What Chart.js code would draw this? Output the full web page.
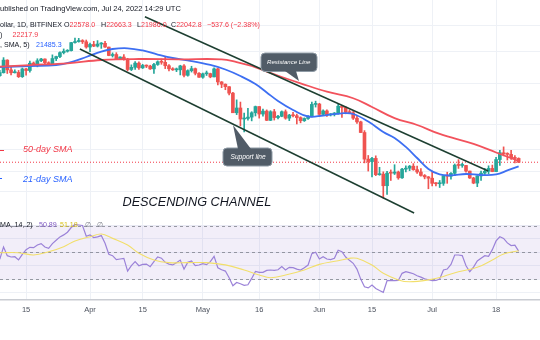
<!DOCTYPE html>
<html lang="en">
<head>
<meta charset="UTF-8">
<meta name="viewport" content="width=device-width, initial-scale=1.0">
<title>BTC/USD 1D - descending channel</title>
<script src="https://cdn.jsdelivr.net/npm/chart.js"></script>
<style>
  html, body { margin: 0; padding: 0; background: #ffffff; }
  body { position: relative; width: 540px; height: 340px; overflow: hidden; font-family: "Liberation Sans", Arial, sans-serif; }
  canvas { position: absolute; left: 0; }
  #priceChart { top: 0; }
  #rsiChart { top: 216px; }
  .t { position: absolute; white-space: nowrap; line-height: 1; }
  .legend { font-size: 7.1px; color: #131722; }
  .red { color: #f23645; }
  .blue { color: #2962ff; }
  .note { font-style: italic; font-size: 9px; }
  .bubble { font-style: italic; color: #ffffff; }
  .dash { position: absolute; height: 1px; }
</style>
</head>
<body>
<canvas id="priceChart" width="540" height="216"></canvas>
<canvas id="rsiChart" width="540" height="124"></canvas>

<!-- legend -->
<div class="t legend" style="left:0;top:4.5px;font-size:7.5px">ublished on TradingView.com, Jul 24, 2022 14:29 UTC</div>
<div class="t legend" style="left:0;top:22px">ollar, 1D, BITFINEX</div>
<div class="t legend" style="left:64px;top:22px">O<span class="red">22578.0</span></div>
<div class="t legend" style="left:101px;top:22px">H<span class="red">22663.3</span></div>
<div class="t legend" style="left:137px;top:22px">L<span class="red">21986.0</span></div>
<div class="t legend" style="left:171px;top:22px">C<span class="red">22042.8</span></div>
<div class="t legend red" style="left:207px;top:22px">−537.6 (−2.38%)</div>
<div class="t legend" style="left:0;top:32px">)</div>
<div class="t legend red" style="left:12.5px;top:32px">22217.9</div>
<div class="t legend" style="left:0;top:42px">, SMA, 5)</div>
<div class="t legend blue" style="left:36px;top:42px">21485.3</div>

<!-- notes on the chart -->
<div class="dash" style="left:0;top:150px;width:4px;background:#f23645"></div>
<div class="t note red" style="left:23px;top:145px">50-day SMA</div>
<div class="dash" style="left:0;top:178px;width:2px;background:#2962ff"></div>
<div class="t note blue" style="left:23px;top:174.5px">21-day SMA</div>
<div class="t" style="left:122.5px;top:195.5px;font-size:12.7px;font-style:italic;color:#131722">DESCENDING CHANNEL</div>
<div class="t bubble" style="left:267px;top:58.5px;font-size:6.1px">Resistance Line</div>
<div class="t bubble" style="left:230.5px;top:153.5px;font-size:6.6px">Support line</div>

<!-- RSI legend -->
<div class="t legend" style="left:0;top:222px">MA, 14, 2)</div>
<div class="t legend" style="left:39px;top:222px;color:#7e57c2">50.89</div>
<div class="t legend" style="left:60px;top:222px;color:#d9c21a">51.18</div>
<div class="t legend" style="left:85px;top:222px;color:#787b86">∅</div>
<div class="t legend" style="left:96.5px;top:222px;color:#787b86">∅</div>

<script>
// day numbers count from Apr 1 2022 (Mar 7 = -25 ... Jul 24 = 114)
const firstDay = -25;

const opens = [38400,38020,38740,41940,39430,38730,38810,37780,39670,39280,41120,40920,41770,42230,41260,41000,42360,42880,43960,44340,44520,46830,47130,47440,47070,
  45540,46280,45810,46410,46620,45530,43170,43440,42250,42760,42160,39530,40080,41150,39940,40550,40380,39680,40800,41500,41360,40480,39710,39450,39450,40430,38110,39240,39740,38600,
  37650,38470,38520,37730,39690,36550,36030,35470,34060,30100,31020,28940,29040,29290,30100,31300,29860,30420,28700,30300,29200,29440,30300,29100,29650,29540,29200,28630,29030,29460,31730,
  31800,29800,30450,29700,29860,29900,31370,31130,30200,30110,29090,28420,26580,22480,22130,22580,20380,20450,19010,20580,20570,20720,19980,21100,21230,21500,21030,20730,20280,20100,
  19930,19300,19250,19300,20230,20190,20550,21640,21600,21600,20850,19960,19330,20220,20580,20830,21200,20780,22420,23400,23240,23160,22680,22578.0];
const highs = [39550,39350,42600,42040,40250,39460,39300,39900,39850,41700,41450,42300,42400,42300,41500,43350,43000,44200,45000,44800,46900,48190,48100,47700,47600,
  46700,47200,47420,46850,47180,45530,43900,43950,42800,43400,42420,40700,41550,41500,40850,40700,40600,41100,41750,42200,42950,40780,39990,39900,40600,40800,39450,40350,39900,38800,
  38660,39150,38630,39950,39800,36650,36100,35500,34250,32650,32200,30050,30950,30300,31400,31300,30800,30650,30500,30750,29600,30450,30650,29800,30200,29850,29350,29150,29550,32200,32380,
  31950,30650,30650,29950,30150,31750,31550,31300,30650,30350,29450,28550,26900,23000,22750,22950,21350,20750,20800,21000,21700,20850,21200,21550,21600,21850,21500,21180,20400,20150,
  20850,19400,19650,20300,20700,20650,21800,22400,21900,21600,20850,20050,20250,20850,21200,21550,21650,22750,23750,24280,23400,23750,22980,22663.3];
const lows = [37160,37870,38650,38550,38230,38660,37580,37600,38120,38900,40530,40200,41500,40900,40500,40890,41800,42600,43600,44100,44400,46650,46950,46550,45200,
  44250,45650,45550,45150,45400,43100,42750,42130,42130,41900,39200,39250,39570,39560,39770,40000,39550,38540,40570,40850,39750,39200,39300,39000,38200,37700,37900,38900,38200,37600,
  37400,38060,37520,37700,35860,35250,34800,33700,30100,29750,27700,26700,28750,28600,29500,29100,29450,28650,28650,28750,28950,29350,28900,28650,29300,28050,28250,28500,28850,29300,31200,
  29400,29600,29400,29500,29500,29850,29250,29900,29950,28850,28150,26550,21950,20850,20100,20250,20300,17600,18000,19650,20400,19800,19900,20750,20900,20950,20550,20200,19850,18650,
  19000,18980,18800,19050,19300,19800,20250,21200,21350,20700,19900,19250,18900,19650,20400,20500,20760,20760,21600,22950,22350,22450,21950,21986.0];
const closes = [38020,38740,41940,39430,38730,38810,37780,39670,39280,41120,40920,41770,42230,41260,41000,42360,42880,43960,44340,44520,46830,47130,47440,47070,45540,
  46280,45810,46410,46620,45530,43170,43440,42250,42760,42160,39530,40080,41150,39940,40550,40380,39680,40800,41500,41360,40480,39710,39450,39450,40430,38110,39240,39740,38600,37650,
  38470,38520,37730,39690,36550,36030,35470,34060,30100,31020,28940,29040,29290,30100,31300,29860,30420,28700,30300,29200,29440,30300,29100,29650,29540,29200,28630,29030,29460,31730,31800,
  29800,30450,29700,29860,29900,31370,31130,30200,30110,29090,28420,26580,22480,22130,22580,20380,20450,19010,20580,20570,20720,19980,21100,21230,21500,21030,20730,20280,20100,19930,
  19300,19250,19300,20230,20190,20550,21640,21600,21600,20850,19960,19330,20220,20580,20830,21200,20780,22420,23400,23240,23160,22680,22578,22042.8];

// moving averages at a few days each
const sma50Days = [-24,-16,-6,3,13,24,35,39,43,47,51,56,63,70,75,81,87,93,102,108,114];
const sma50 = [40230,40650,41100,41970,42230,42150,42150,41440,40410,38990,37710,36240,34370,32980,31220,29100,27870,26340,24740,23440,22217.9];
const sma21Days = [-24,-16,-9,-5,-1,3,6,10,14,18,22,27,32,36,40,44,47,50,54,58,62,67,70,74,78,81,84,87,90,93,96,100,104,108,111,114];
const sma21 = [40160,40410,40670,41440,42770,44270,44980,45180,44560,43440,42500,41700,40670,39530,37950,36080,34200,32420,30630,29400,29580,30000,29870,28490,26670,25680,24270,22640,21130,20410,20280,20470,20340,20410,20930,21485.3];

// RSI(14) per day, and its moving average at a few days
const rsi = [41,
  44.8,54,47.5,46.5,46.7,44.3,48.5,52,53.7,53.5,55.5,56.5,54,53,56.5,59,61.5,63,65,68.5,70.8,70.4,70,62,
  62.9,61,61.5,62.5,56.7,48.5,47.5,44.5,45,45.5,36,40,43,40,41,41.2,39.3,43,46.5,45.6,42.5,41.2,40.6,42.3,44.2,37.5,42.5,43.5,40,40.5,41.5,
  40.8,43,47,38.5,37,36,31,25,27.5,26.5,25.3,25.8,30.5,35.7,35,35,36.5,36.8,36.5,37,39.3,36.8,38.8,38.5,37.5,36.8,38.5,40.5,49,50,45,
  46.7,45,44.5,45.5,51.5,50.5,46.5,44,41.8,37.5,30,24.3,23.4,25.5,23,21.5,20.1,28.8,28.8,28.8,29,34.3,35.5,34.8,34,32.5,31.5,30.2,29.5,28.8,
  29,30,36.8,37.5,41,48,48,47.5,40,35.5,39,43.5,45.5,47.5,47,52,58.5,61.6,60.4,57,55,55.4,50.89];
const rsiMaDays = [-24,-19,-15,-11,-7,-4,0,3,6,10,13,17,21,26,31,36,41,45,48,52,57,61,66,69,71,75,78,82,85,90,94,98,103,107,110,114];
const rsiMa = [49.7,49.7,48,50.4,54.2,58.5,61.6,63.7,60.4,55.4,49.3,44.3,42.3,42.3,42.3,40.6,36.8,33.1,31,33,36.8,41,43.7,45.5,45.5,40.5,34.3,29.4,28,29.4,32,35.5,38.8,44.3,48.7,51.18];
const rsiBand = [30, 50, 70];

// drawn channel (day, price at each end)
const resistanceDays = [14.6, 105.9];
const resistancePrices = [55120, 20860];
const supportDays = [-2.7, 86.2];
const supportPrices = [44970, 16010];

// time axis
const tickDays = [-17, 0, 14, 30, 45, 61, 75, 91, 108];
const tickLabels = ['15', 'Apr', '15', 'May', '16', 'Jun', '15', 'Jul', '18'];
const priceGrid = [52300, 44200, 36200, 27900, 23900, 20800, 18300];
const rsiGrid = [20, 30, 40, 50, 60, 70];

const xMin = -23.94, xMax = 119.68;
const UP = '#26a69a', DOWN = '#ef5350';
const GRID = '#eef1f6';

const days = closes.map((c, i) => firstDay + i);
const candleColors = closes.map((c, i) => c >= opens[i] ? UP : DOWN);
const pts = (xs, ys) => xs.map((x, i) => ({ x: x, y: ys[i] }));
const lastClose = closes[closes.length - 1];

function xScale(extra) {
    return Object.assign({
        type: 'linear', min: xMin, max: xMax, bounds: 'data', offset: false,
        grid: { color: GRID, drawTicks: false, offset: false },
        border: { display: false },
        afterBuildTicks: s => { s.ticks = tickDays.map(v => ({ value: v })); }
    }, extra);
}

// speech bubbles for the two channel lines
const callouts = [
    { box: [261, 53, 56, 18.5], tail: [[285, 71], [296, 71], [299, 81]] },
    { box: [223, 148, 49, 18], tail: [[238, 149], [251, 149], [233, 125]] }
];
const calloutPlugin = {
    id: 'callouts',
    afterDatasetsDraw(chart) {
        const ctx = chart.ctx;
        ctx.save();
        callouts.forEach(c => {
            ctx.fillStyle = '#515c67';
            ctx.strokeStyle = '#8e9aa5';
            ctx.lineWidth = 1;
            ctx.beginPath();
            ctx.roundRect(c.box[0], c.box[1], c.box[2], c.box[3], 4);
            ctx.fill();
            ctx.stroke();
            ctx.beginPath();
            ctx.moveTo(c.tail[0][0], c.tail[0][1]);
            ctx.lineTo(c.tail[2][0], c.tail[2][1]);
            ctx.lineTo(c.tail[1][0], c.tail[1][1]);
            ctx.closePath();
            ctx.fill();
        });
        ctx.restore();
    }
};

new Chart(document.getElementById('priceChart'), {
    type: 'bar',
    data: {
        datasets: [
            { type: 'line', data: [{ x: xMin, y: lastClose }, { x: xMax, y: lastClose }], borderColor: '#f23645', borderWidth: 1, borderDash: [1, 2], pointRadius: 0, order: 5 },
            { data: pts(days, lows.map((l, i) => [l, highs[i]])), backgroundColor: candleColors, barThickness: 1, grouped: false, order: 4 },
            { data: pts(days, opens.map((o, i) => [o, closes[i]])), backgroundColor: candleColors, barThickness: 3, minBarLength: 1, grouped: false, order: 3 },
            { type: 'line', data: pts(sma50Days, sma50), borderColor: '#f2525c', borderWidth: 1.8, pointRadius: 0, tension: 0.4, order: 2 },
            { type: 'line', data: pts(sma21Days, sma21), borderColor: '#3d6ff2', borderWidth: 1.8, pointRadius: 0, tension: 0.4, order: 2 },
            { type: 'line', data: pts(resistanceDays, resistancePrices), borderColor: '#1d3f31', borderWidth: 1.5, pointRadius: 0, order: 1 },
            { type: 'line', data: pts(supportDays, supportPrices), borderColor: '#1d3f31', borderWidth: 1.5, pointRadius: 0, order: 1 }
        ]
    },
    options: {
        responsive: false, animation: false,
        layout: { padding: 0, autoPadding: false },
        plugins: { legend: { display: false }, tooltip: { enabled: false } },
        scales: {
            x: xScale({
                ticks: { display: false },
                afterFit: s => { s.height = 0; s.paddingLeft = 0; s.paddingRight = 0; }
            }),
            y: {
                type: 'logarithmic', min: 15710, max: 61240, bounds: 'data',
                ticks: { display: false },
                grid: { color: GRID, drawTicks: false },
                border: { display: false },
                afterBuildTicks: s => { s.ticks = priceGrid.map(v => ({ value: v })); },
                afterFit: s => { s.width = 0; }
            }
        }
    },
    plugins: [calloutPlugin]
});

// RSI pane: band between 30 and 70 plus dashed levels
const bandPlugin = {
    id: 'rsiBand',
    beforeDatasetsDraw(chart) {
        const { ctx, chartArea: a, scales: { y } } = chart;
        const top = y.getPixelForValue(rsiBand[2]);
        const bottom = y.getPixelForValue(rsiBand[0]);
        ctx.save();
        ctx.fillStyle = 'rgba(126, 87, 194, 0.1)';
        ctx.fillRect(a.left, top, a.width, bottom - top);
        ctx.strokeStyle = 'rgba(120, 123, 134, 0.75)';
        ctx.lineWidth = 1;
        ctx.setLineDash([3, 3]);
        rsiBand.forEach(v => {
            const py = Math.round(y.getPixelForValue(v)) + 0.5;
            ctx.beginPath();
            ctx.moveTo(a.left, py);
            ctx.lineTo(a.right, py);
            ctx.stroke();
        });
        ctx.restore();
    }
};

new Chart(document.getElementById('rsiChart'), {
    type: 'line',
    data: {
        datasets: [
            { data: pts(rsiMaDays, rsiMa), borderColor: '#f2df6b', borderWidth: 1.1, pointRadius: 0, tension: 0.4 },
            { data: pts(days, rsi), borderColor: '#9b82d8', borderWidth: 1.2, pointRadius: 0, tension: 0 }
        ]
    },
    options: {
        responsive: false, animation: false,
        layout: { padding: 0, autoPadding: false },
        plugins: { legend: { display: false }, tooltip: { enabled: false } },
        scales: {
            x: xScale({
                border: { display: true, color: '#c9ccd2', width: 1.5 },
                ticks: {
                    padding: 5, color: '#4c525e', maxRotation: 0, autoSkip: false,
                    font: { family: 'Liberation Sans', size: 7.5 },
                    callback: v => tickLabels[tickDays.indexOf(v)]
                },
                afterFit: s => { s.height = 40; s.paddingLeft = 0; s.paddingRight = 0; }
            }),
            y: {
                type: 'linear', min: 14.4, max: 77.1, bounds: 'data',
                ticks: { display: false },
                grid: { color: GRID, drawTicks: false },
                border: { display: false },
                afterBuildTicks: s => { s.ticks = rsiGrid.map(v => ({ value: v })); },
                afterFit: s => { s.width = 0; }
            }
        }
    },
    plugins: [bandPlugin]
});
</script>
</body>
</html>
